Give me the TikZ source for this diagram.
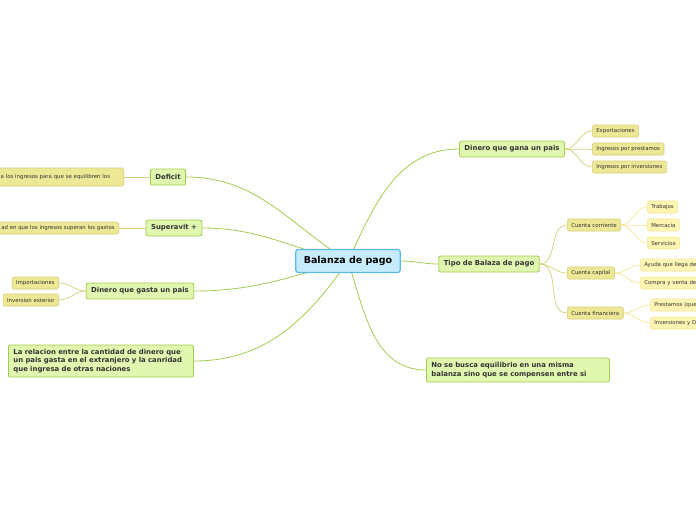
\documentclass[tikz,border=0pt]{standalone}
\usepackage{fontspec}
\setmainfont{DejaVu Sans}
\usetikzlibrary{backgrounds}
\definecolor{bpBlue}{RGB}{198,236,252}
\definecolor{bpBlueLine}{RGB}{88,186,232}
\definecolor{bpGreen}{RGB}{224,247,176}
\definecolor{bpGreenLine}{RGB}{163,204,78}
\definecolor{bpKhaki}{RGB}{236,232,150}
\definecolor{bpKhakiLine}{RGB}{212,207,120}
\definecolor{bpYellow}{RGB}{255,245,178}
\definecolor{bpYellowLine}{RGB}{246,230,150}
\definecolor{bpText}{RGB}{51,51,51}

\begin{document}
\begin{tikzpicture}[
    x=1pt, y=1pt,
    centre/.style={rectangle, rounded corners=2.5pt, draw=bpBlueLine, line width=1.2pt, fill=bpBlue, minimum height=23pt, inner xsep=8pt, font=\fontsize{9.5}{11}\selectfont\bfseries, text=black},
    topic/.style={rectangle, rounded corners=2pt, draw=bpGreenLine, line width=0.8pt, fill=bpGreen, minimum height=16pt, inner xsep=5pt, font=\fontsize{6.9}{8.6}\selectfont\bfseries, text=bpText},
    subtopic/.style={rectangle, rounded corners=1.5pt, draw=bpKhakiLine, line width=0.6pt, fill=bpKhaki, minimum height=12pt, inner xsep=4pt, font=\fontsize{5.4}{6.5}\selectfont, text=bpText},
    leaf/.style={subtopic, draw=bpYellowLine, fill=bpYellow},
    link/.style={draw=bpGreenLine, line width=0.8pt},
    sublink/.style={draw=bpKhakiLine, line width=0.7pt},
    leaflink/.style={draw=bpYellowLine, line width=0.7pt}
]
  \useasboundingbox (0,0) rectangle (696,-520);

  % centre
  \node[centre] (bal) at (348,-261) {Balanza de pago};

  % right side
  \node[topic] (gana) at (512,-149) {Dinero que gana un pais};
  \node[subtopic, anchor=west] (export) at (592,-131) {Exportaciones};
  \node[subtopic, anchor=west] (prest) at (592,-149) {Ingresos por prestamos};
  \node[subtopic, anchor=west] (inver) at (592,-167) {Ingresos por inversiones};

  \node[topic] (tipo) at (489,-264) {Tipo de Balaza de pago};
  \node[subtopic, anchor=west] (corr) at (567,-225) {Cuenta corriente};
  \node[subtopic, anchor=west] (capi) at (567,-273) {Cuenta capital};
  \node[subtopic, anchor=west] (fina) at (567,-313) {Cuenta financiera};
  \node[leaf, anchor=west] (trab) at (647,-207) {Trabajos};
  \node[leaf, anchor=west] (merc) at (647,-225) {Mercacia};
  \node[leaf, anchor=west] (serv) at (647,-243) {Servicios};
  \node[leaf, anchor=west, text width=70pt, align=left] (ayuda) at (640,-265) {Ayuda que llega de};
  \node[leaf, anchor=west, text width=70pt, align=left] (compra) at (640,-283) {Compra y venta de};
  \node[leaf, anchor=west, text width=60pt, align=left] (prestq) at (650,-305) {Prestamos (que};
  \node[leaf, anchor=west, text width=60pt, align=left] (inverd) at (650,-323) {Inversiones y D};

  \node[topic, anchor=west, text width=173pt, align=left, minimum height=24pt] (nobusca) at (426,-370)
    {No se busca equilibrio en una misma\\balanza sino que se compensen entre si};

  % left side
  \node[topic] (deficit) at (168,-177) {Deficit};
  \node[subtopic, anchor=east, text width=119pt, align=left, minimum height=18pt] (defnote) at (124,-177)
    {a los ingresos para que se equilibren los};

  \node[topic] (superavit) at (174,-228) {Superavit +};
  \node[subtopic, anchor=east] (supnote) at (119,-228) {ad en que los ingresos superan los gastos};

  \node[topic] (gasta) at (140,-291) {Dinero que gasta un pais};
  \node[subtopic, anchor=east] (import) at (59,-283) {Importaciones};
  \node[subtopic, anchor=east] (invext) at (59,-300) {Inversion exterior};

  \node[topic, anchor=west, text width=175pt, align=left, minimum height=32pt] (relacion) at (8,-361)
    {La relacion entre la cantidad de dinero que\\un pais gasta en el extranjero y la canridad\\que ingresa de otras naciones};

  \begin{scope}[on background layer]
    \draw[link] (bal.center) to[out=65,in=180] (gana.west);
    \draw[link] (bal.east) to[out=0,in=180] (tipo.west);
    \draw[link] (bal.center) to[out=-72,in=180] (nobusca.west);
    \draw[link] (bal.center) to[out=148,in=0] (deficit.east);
    \draw[link] (bal.center) to[out=168,in=0] (superavit.east);
    \draw[link] (bal.center) to[out=195,in=0] (gasta.east);
    \draw[link] (bal.center) to[out=235,in=0] (relacion.east);

    \foreach \n in {export,prest,inver}
      \draw[sublink] (gana.east) to[out=0,in=180] (\n.west);
    \foreach \n in {corr,capi,fina}
      \draw[sublink] (tipo.east) to[out=0,in=180] (\n.west);
    \foreach \n in {trab,merc,serv}
      \draw[leaflink] (corr.east) to[out=0,in=180] (\n.west);
    \foreach \n in {ayuda,compra}
      \draw[leaflink] (capi.east) to[out=0,in=180] (\n.west);
    \foreach \n in {prestq,inverd}
      \draw[leaflink] (fina.east) to[out=0,in=180] (\n.west);

    \draw[sublink] (deficit.west) -- (defnote.east);
    \draw[sublink] (superavit.west) -- (supnote.east);
    \foreach \n in {import,invext}
      \draw[sublink] (gasta.west) to[out=180,in=0] (\n.east);
  \end{scope}
\end{tikzpicture}
\end{document}
